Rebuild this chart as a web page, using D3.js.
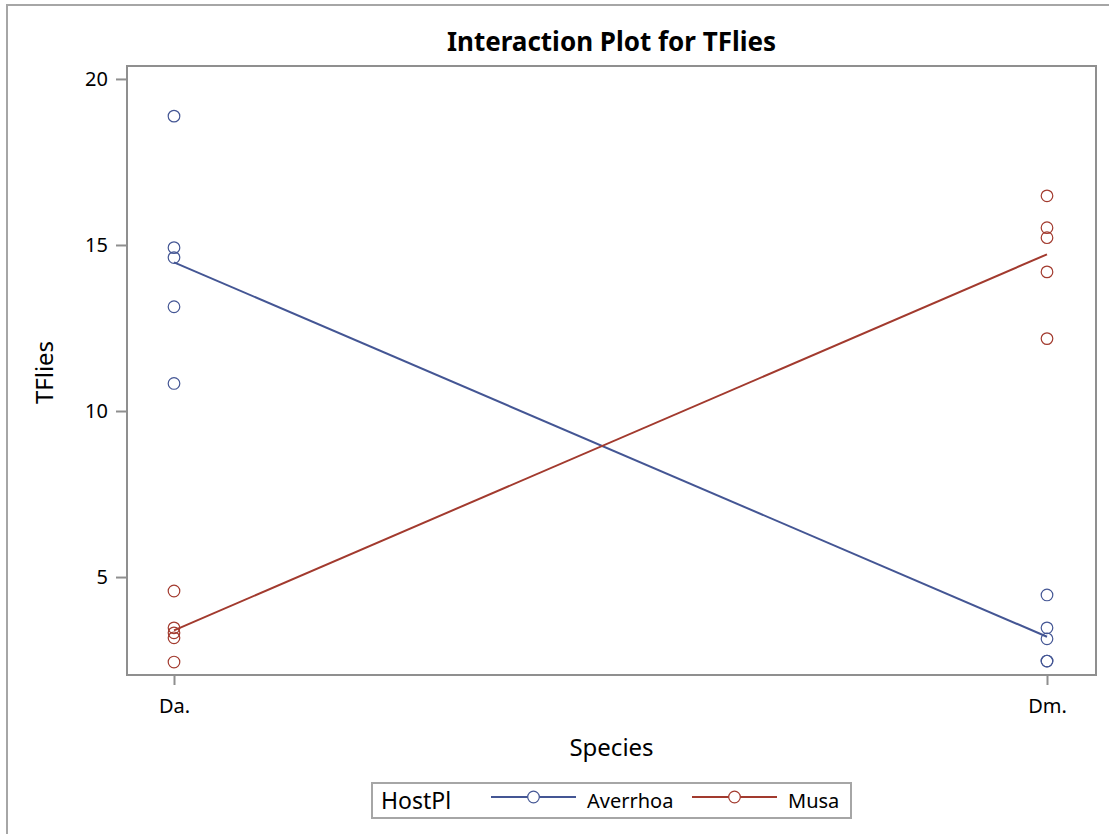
<!DOCTYPE html>
<html><head><meta charset="utf-8">
<script src="https://cdn.jsdelivr.net/npm/d3@7"></script>
<style>body{margin:0;background:#fff}svg{display:block}text{font-family:"Noto Sans",sans-serif}</style>
</head><body>
<script>
const species = ["Da.", "Dm."];
const hosts = ["Averrhoa", "Musa"];
const averrhoaDa = [18.88, 14.92, 14.62, 13.14, 10.83];
const averrhoaDm = [4.46, 3.47, 3.14, 2.47, 2.47];
const musaDa = [4.58, 3.47, 3.32, 3.17, 2.44];
const musaDm = [16.48, 15.52, 15.22, 14.19, 12.18];
const yTicks = [5, 10, 15, 20];
const colors = {Averrhoa: "#445694", Musa: "#A23A2E"};

const W = 1109, H = 834;
const svg = d3.select("body").append("svg").attr("width", W).attr("height", H);
const frame = {l: 127, t: 66, r: 1096, b: 675};

// outer border
svg.append("rect").attr("x", 7).attr("y", 5).attr("width", W + 20).attr("height", H + 20)
  .attr("fill", "none").attr("stroke", "#a6a6a6").attr("stroke-width", 2);

const x = d3.scalePoint().domain(species).range([174, 1047]);
const y = d3.scaleLinear().domain([2.05, 20.39]).range([frame.b, frame.t]);

const data = {
  Averrhoa: {"Da.": averrhoaDa, "Dm.": averrhoaDm},
  Musa: {"Da.": musaDa, "Dm.": musaDm}
};

// frame
svg.append("rect").attr("x", frame.l).attr("y", frame.t)
  .attr("width", frame.r - frame.l).attr("height", frame.b - frame.t)
  .attr("fill", "none").attr("stroke", "#8f8f8f").attr("stroke-width", 2);

// y axis
const yAxis = svg.append("g").attr("transform", `translate(${frame.l},0)`)
  .call(d3.axisLeft(y).tickValues(yTicks).tickSize(11).tickPadding(8));
yAxis.select(".domain").remove();
yAxis.selectAll("line").attr("stroke", "#8f8f8f").attr("stroke-width", 2);
yAxis.selectAll("text").attr("font-size", 20).attr("fill", "#000");

// x axis
const xAxis = svg.append("g").attr("transform", `translate(0,${frame.b})`)
  .call(d3.axisBottom(x).tickSize(10).tickPadding(14));
xAxis.select(".domain").remove();
xAxis.selectAll("line").attr("stroke", "#8f8f8f").attr("stroke-width", 2);
xAxis.selectAll("text").attr("font-size", 20).attr("fill", "#000");

// lines and points
hosts.forEach(h => {
  const means = species.map(s => ({s, m: d3.mean(data[h][s])}));
  svg.append("path").datum(means)
    .attr("d", d3.line().x(d => x(d.s)).y(d => y(d.m)))
    .attr("fill", "none").attr("stroke", colors[h]).attr("stroke-width", 2);
  species.forEach(s => {
    svg.selectAll(null).data(data[h][s]).enter().append("circle")
      .attr("cx", x(s)).attr("cy", d => y(d)).attr("r", 5.8)
      .attr("fill", "none").attr("stroke", colors[h]).attr("stroke-width", 1.2);
  });
});

// title and labels
svg.append("text").attr("x", (frame.l + frame.r) / 2).attr("y", 51)
  .attr("text-anchor", "middle").attr("font-size", 26).attr("font-weight", "bold").text("Interaction Plot for TFlies");
svg.append("text").attr("transform", `translate(53,${(frame.t + frame.b) / 2 + 2}) rotate(-90)`)
  .attr("text-anchor", "middle").attr("font-size", 24).text("TFlies");
svg.append("text").attr("x", (frame.l + frame.r) / 2).attr("y", 756)
  .attr("text-anchor", "middle").attr("font-size", 24).text("Species");

// legend
const lg = svg.append("g");
lg.append("rect").attr("x", 372).attr("y", 783).attr("width", 479).attr("height", 35)
  .attr("fill", "none").attr("stroke", "#a6a6a6").attr("stroke-width", 2);
lg.append("text").attr("x", 381).attr("y", 809).attr("font-size", 23).text("HostPl");
const lx = {Averrhoa: 491, Musa: 692};
hosts.forEach(h => {
  const g = lg.append("g");
  g.append("line").attr("x1", lx[h]).attr("x2", lx[h] + 85).attr("y1", 797).attr("y2", 797)
    .attr("stroke", colors[h]).attr("stroke-width", 2);
  g.append("circle").attr("cx", lx[h] + 42.5).attr("cy", 797).attr("r", 5.8)
    .attr("fill", "#fff").attr("stroke", colors[h]).attr("stroke-width", 1.2);
  g.append("text").attr("x", lx[h] + 96).attr("y", 808).attr("font-size", 20).text(h);
});
</script>
</body></html>
